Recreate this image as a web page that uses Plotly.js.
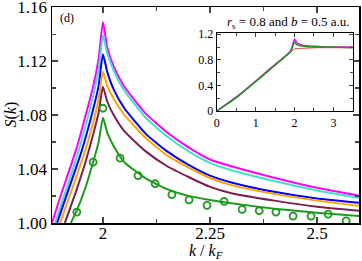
<!DOCTYPE html>
<html><head><meta charset="utf-8">
<script src="https://cdn.plot.ly/plotly-3.0.1.min.js"></script>
<style>html,body{margin:0;padding:0;background:#fff}#c{width:362px;height:261px}</style>
</head><body><div id="c"></div>
<script>
// Main panel curves: k/kF and S(k)
const kMagenta = [1.881, 1.90, 1.939, 1.977, 1.99, 2.0, 2.01, 2.025, 2.05, 2.1, 2.15, 2.2, 2.25, 2.3, 2.4, 2.5, 2.6];
const sMagenta = [1.000, 1.019, 1.056, 1.101, 1.122, 1.149, 1.130, 1.116, 1.101, 1.081, 1.067, 1.056, 1.047, 1.042, 1.0335, 1.026, 1.020];
const kCyan = [1.888, 1.92, 1.95, 1.977, 1.99, 2.0, 2.01, 2.025, 2.05, 2.1, 2.15, 2.2, 2.25, 2.3, 2.4, 2.5, 2.6];
const sCyan = [1.000, 1.030, 1.061, 1.094, 1.114, 1.139, 1.126, 1.113, 1.098, 1.078, 1.064, 1.053, 1.0445, 1.039, 1.031, 1.024, 1.0185];
const kBlue = [1.893, 1.92, 1.95, 1.977, 1.99, 2.0, 2.01, 2.025, 2.05, 2.1, 2.15, 2.2, 2.25, 2.3, 2.4, 2.5, 2.6];
const sBlue = [1.000, 1.025, 1.053, 1.084, 1.102, 1.125, 1.112, 1.099, 1.085, 1.066, 1.053, 1.043, 1.035, 1.030, 1.023, 1.018, 1.0148];
const kOrange = [1.900, 1.93, 1.96, 1.98, 1.99, 2.0, 2.01, 2.025, 2.05, 2.1, 2.15, 2.2, 2.25, 2.3, 2.4, 2.5, 2.6];
const sOrange = [1.000, 1.027, 1.055, 1.078, 1.092, 1.112, 1.102, 1.092, 1.080, 1.063, 1.050, 1.041, 1.0333, 1.028, 1.0215, 1.0165, 1.0126];
const kPurple = [1.911, 1.94, 1.96, 1.98, 1.99, 2.0, 2.01, 2.025, 2.05, 2.1, 2.15, 2.2, 2.25, 2.3, 2.4, 2.5, 2.6];
const sPurple = [1.000, 1.026, 1.046, 1.069, 1.082, 1.101, 1.090, 1.080, 1.068, 1.053, 1.042, 1.034, 1.0267, 1.022, 1.0165, 1.012, 1.009];
const kGreen = [1.925, 1.94, 1.96, 1.977, 1.99, 2.0, 2.01, 2.025, 2.05, 2.1, 2.15, 2.2, 2.25, 2.3, 2.4, 2.5, 2.6];
const sGreen = [1.000, 1.010, 1.027, 1.045, 1.060, 1.078, 1.067, 1.057, 1.045, 1.033, 1.025, 1.020, 1.017, 1.0145, 1.0105, 1.0075, 1.005];
// Circles (simulation points)
const kDots = [1.939, 1.977, 2.0, 2.040, 2.082, 2.122, 2.161, 2.201, 2.243, 2.283, 2.325, 2.365, 2.404, 2.444, 2.486, 2.526, 2.568];
const sDots = [1.008, 1.045, 1.085, 1.048, 1.035, 1.029, 1.021, 1.017, 1.013, 1.016, 1.010, 1.009, 1.008, 1.005, 1.005, 1.0065, 1.0015];
// Inset curves
const kInMag = [0, 0.5, 1, 1.5, 1.9, 2.0, 2.05, 2.1, 2.3, 2.6, 3.0, 3.5];
const sInMag = [0, 0.22, 0.47, 0.73, 0.94, 1.13, 1.07, 1.05, 1.02, 1.01, 1.0, 1.0];
const kInGreen = [0, 0.5, 1, 1.5, 1.9, 2.0, 2.05, 2.1, 2.3, 2.6, 3.0, 3.5];
const sInGreen = [0, 0.21, 0.46, 0.72, 0.93, 1.08, 1.04, 1.03, 1.01, 1.0, 1.0, 0.99];
const kInRed = [0, 0.5, 1, 1.5, 2.0, 2.2, 2.6, 3.0, 3.5];
const sInRed = [0, 0.21, 0.46, 0.71, 0.97, 0.98, 0.99, 0.99, 0.99];
// Ticks
const xTickVals = [2, 2.25, 2.5];
const xTickText = ["2", "2.25", "2.5"];
const yTickVals = [1.00, 1.04, 1.08, 1.12, 1.16];
const yTickText = ["1.00", "1.04", "1.08", "1.12", "1.16"];
const inXTicks = [0, 1, 2, 3];
const inYTicks = [0, 0.4, 0.8, 1.2];
const inYText = ["0", "0.4", "0.8", "1.2"];

function line(x, y, color, xa, ya, w) {
  return {x: x, y: y, type: 'scatter', mode: 'lines', line: {color: color, width: w, shape: 'spline', smoothing: 0.5},
    xaxis: xa, yaxis: ya, hoverinfo: 'skip'};
}
const data = [
  line(kMagenta, sMagenta, '#ff00ff', 'x', 'y', 2),
  line(kCyan, sCyan, '#40e0d0', 'x', 'y', 2),
  line(kBlue, sBlue, '#0000ff', 'x', 'y', 2),
  line(kOrange, sOrange, '#ffa500', 'x', 'y', 2),
  line(kPurple, sPurple, '#7a1f55', 'x', 'y', 2),
  line(kGreen, sGreen, '#1d9a1d', 'x', 'y', 2),
  {x: kDots, y: sDots, type: 'scatter', mode: 'markers', xaxis: 'x', yaxis: 'y',
   marker: {symbol: 'circle-open', size: 7, color: '#1d9a1d', line: {width: 1.8, color: '#1d9a1d'}}, hoverinfo: 'skip'},
  line(kInRed, sInRed, '#ff3030', 'x2', 'y2', 1),
  line(kInMag, sInMag, '#ff00ff', 'x2', 'y2', 1.5),
  line(kInGreen, sInGreen, '#1d9a1d', 'x2', 'y2', 1.5)
];
const serif = 'Liberation Serif';
const layout = {
  width: 362, height: 261,
  margin: {l: 52, r: 3, t: 7, b: 38},
  paper_bgcolor: '#fff', plot_bgcolor: '#fff',
  showlegend: false,
  font: {family: serif, color: '#000', size: 16},
  xaxis: {range: [1.881, 2.598], tickvals: xTickVals, ticktext: xTickText, ticks: 'inside', ticklen: 6, tickwidth: 1.5,
    mirror: 'allticks', showline: true, linewidth: 1.5, linecolor: '#000', showgrid: false, zeroline: false,
    ticklabelstandoff: -6, ticklabeloverflow: 'allow',
    tickfont: {size: 17, family: serif}, minor: {tickvals: [2.125, 2.375], ticks: 'inside', ticklen: 4, tickwidth: 1.2}},
  yaxis: {range: [0.9999, 1.1601], tickvals: yTickVals, ticktext: yTickText, ticks: 'inside', ticklen: 6, tickwidth: 1.5,
    mirror: 'allticks', showline: true, linewidth: 1.5, linecolor: '#000', showgrid: false, zeroline: false,
    ticklabeloverflow: 'allow',
    tickfont: {size: 17, family: serif}, minor: {tickvals: [1.02, 1.06, 1.10, 1.14], ticks: 'inside', ticklen: 4, tickwidth: 1.2}},
  xaxis2: {domain: [0.537, 0.980], anchor: 'y2', range: [0, 3.5], tickvals: inXTicks, ticks: 'inside', ticklen: 4, tickwidth: 1.2,
    mirror: 'allticks', showline: true, linewidth: 1.2, linecolor: '#000', showgrid: false, zeroline: false,
    ticklabeloverflow: 'allow',
    tickfont: {size: 12, family: serif}, minor: {tickvals: [0.5, 1.5, 2.5], ticks: 'inside', ticklen: 3, tickwidth: 1}},
  yaxis2: {domain: [0.5185, 0.8796], anchor: 'x2', range: [0, 1.22], tickvals: inYTicks, ticktext: inYText, ticks: 'inside', ticklen: 4, tickwidth: 1.2,
    mirror: 'allticks', showline: true, linewidth: 1.2, linecolor: '#000', showgrid: false, zeroline: false,
    ticklabeloverflow: 'allow',
    tickfont: {size: 12, family: serif}, minor: {tickvals: [0.2, 0.6, 1.0], ticks: 'inside', ticklen: 3, tickwidth: 1}},
  annotations: [
    {text: '(d)', xref: 'paper', yref: 'paper', x: 0.02, y: 0.95, xanchor: 'left', yanchor: 'middle', showarrow: false, font: {size: 12, family: serif}},
    {text: '<i>r</i><sub>s</sub> = 0.8 and <i>b</i> = 0.5 a.u.', xref: 'paper', yref: 'paper', x: 0.77, y: 0.926, xanchor: 'center', yanchor: 'middle', showarrow: false, font: {size: 13, family: serif}},
    {text: '<i>S</i>(<i>k</i>)', xref: 'paper', yref: 'paper', x: -0.135, y: 0.5, xanchor: 'center', yanchor: 'middle', textangle: -90, showarrow: false, font: {size: 16, family: serif}},
    {text: '<i>k</i> / <i>k</i><sub><i>F</i></sub>', xref: 'paper', yref: 'paper', x: 0.5, y: -0.13, xanchor: 'center', yanchor: 'middle', showarrow: false, font: {size: 16, family: serif}}
  ]
};
Plotly.newPlot('c', data, layout, {staticPlot: true, displayModeBar: false});
</script></body></html>
